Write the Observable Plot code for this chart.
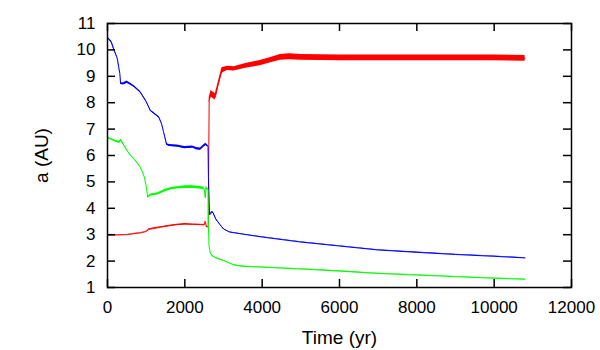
<!DOCTYPE html>
<html>
<head>
<meta charset="utf-8">
<script src="https://cdn.jsdelivr.net/npm/d3@7"></script>
<script src="https://cdn.jsdelivr.net/npm/@observablehq/plot@0.6"></script>
<style>
  html, body { margin: 0; padding: 0; background: #fff; }
  svg { font-family: "Liberation Sans", Arial, sans-serif; }
</style>
</head>
<body>
<div id="chart"></div>
<script>
// ---- data ----
const xTicks = [0, 2000, 4000, 6000, 8000, 10000, 12000];
const yTicks = [1, 2, 3, 4, 5, 6, 7, 8, 9, 10, 11];

const blueX = [0, 20, 100, 170, 250, 320, 340, 420, 500, 600, 700, 850, 1000, 1110, 1200, 1330, 1400, 1450, 1530, 1600, 1800, 2000, 2200, 2300, 2400, 2480, 2540, 2600, 2610, 2640, 2700, 2730, 2800, 2900, 3000, 3150, 3500, 4000, 5000, 6000, 7000, 8000, 9000, 10000, 10800];
const blueY = [10.45, 10.44, 10.3, 10.0, 9.7, 9.1, 8.72, 8.72, 8.78, 8.7, 8.6, 8.4, 8.05, 7.7, 7.6, 7.45, 7.2, 6.9, 6.42, 6.38, 6.36, 6.3, 6.32, 6.26, 6.24, 6.35, 6.42, 6.35, 5.2, 3.75, 3.85, 3.84, 3.6, 3.4, 3.22, 3.1, 3.02, 2.91, 2.72, 2.57, 2.42, 2.33, 2.25, 2.18, 2.12];
const blueS = [0.03, 0.03, 0.04, 0.03, 0.02, 0.02, 0.03, 0.04, 0.04, 0.04, 0.03, 0.03, 0.02, 0.02, 0.03, 0.03, 0.02, 0.01, 0.03, 0.04, 0.04, 0.04, 0.04, 0.04, 0.04, 0.04, 0.04, 0.04, 0.01, 0.02, 0.03, 0.03, 0.02, 0.01, 0.01, 0.01, 0.01, 0.01, 0.01, 0.01, 0.01, 0.01, 0.01, 0.01, 0.01];

const greenX = [0, 20, 200, 300, 350, 400, 500, 600, 700, 850, 950, 1000, 1040, 1100, 1300, 1500, 1650, 1800, 2000, 2200, 2400, 2500, 2530, 2550, 2570, 2600, 2610, 2625, 2660, 2710, 2800, 3000, 3270, 3500, 4000, 5000, 6000, 7000, 8000, 9000, 10000, 10800];
const greenY = [6.66, 6.66, 6.55, 6.5, 6.58, 6.45, 6.2, 6.0, 5.85, 5.56, 5.2, 4.85, 4.42, 4.5, 4.55, 4.68, 4.75, 4.78, 4.8, 4.8, 4.78, 4.75, 4.4, 4.78, 4.75, 4.72, 3.3, 2.6, 2.3, 2.2, 2.12, 2.02, 1.85, 1.8, 1.77, 1.70, 1.62, 1.53, 1.47, 1.41, 1.35, 1.31];
const greenS = [0.03, 0.03, 0.03, 0.04, 0.04, 0.03, 0.02, 0.02, 0.02, 0.01, 0.01, 0.01, 0.01, 0.03, 0.04, 0.04, 0.04, 0.04, 0.05, 0.05, 0.05, 0.05, 0.03, 0.07, 0.05, 0.03, 0.01, 0.01, 0.01, 0.02, 0.02, 0.01, 0.01, 0.01, 0.01, 0.01, 0.01, 0.01, 0.01, 0.01, 0.01, 0.01];

const redX = [0, 20, 500, 900, 1000, 1070, 1200, 1370, 1600, 1800, 2000, 2200, 2400, 2500, 2530, 2560, 2590, 2605, 2615, 2630, 2680, 2710, 2790, 2850, 2960, 3100, 3270, 3600, 3950, 4200, 4470, 4700, 5000, 6000, 7000, 8000, 9000, 10000, 10800];
const redY = [2.98, 2.98, 3.0, 3.08, 3.12, 3.2, 3.24, 3.28, 3.34, 3.38, 3.4, 3.39, 3.38, 3.37, 3.5, 3.3, 3.3, 3.28, 5.5, 8.1, 8.35, 8.3, 8.22, 8.6, 9.22, 9.3, 9.28, 9.4, 9.5, 9.6, 9.72, 9.74, 9.72, 9.7, 9.7, 9.7, 9.7, 9.7, 9.68];
const redS = [0.01, 0.01, 0.01, 0.01, 0.01, 0.02, 0.02, 0.02, 0.02, 0.02, 0.02, 0.02, 0.02, 0.02, 0.02, 0.02, 0.02, 0.01, 0.01, 0.1, 0.12, 0.12, 0.12, 0.1, 0.1, 0.08, 0.08, 0.09, 0.1, 0.1, 0.11, 0.11, 0.11, 0.11, 0.11, 0.11, 0.11, 0.11, 0.11];

const seriesNames = ["outer", "middle", "inner"];
const seriesColors = ["#ff0000", "#0000ff", "#00ff00"];

function rows(name, xs, ys, ss) {
  return xs.map((x, i) => ({series: name, x, y: ys[i], s: ss[i]}));
}
const data = [
  ...rows("outer", redX, redY, redS),
  ...rows("middle", blueX, blueY, blueS),
  ...rows("inner", greenX, greenY, greenS)
];

const W = 600, H = 350;
const mL = 107, mR = 29, mT = 23, mB = 63;
const innerW = W - mL - mR, innerH = H - mT - mB;
const tickLen = 8;

const chart = Plot.plot({
  width: W,
  height: H,
  marginLeft: mL,
  marginRight: mR,
  marginTop: mT,
  marginBottom: mB,
  style: {fontFamily: "'Liberation Sans', Arial, sans-serif", fontSize: "16px", background: "#fff", color: "#000"},
  x: {domain: [0, 12000]},
  y: {domain: [1, 11]},
  color: {type: "ordinal", domain: seriesNames, range: seriesColors},
  marks: [
    Plot.areaY(data, {x: "x", y1: d => d.y - d.s, y2: d => d.y + d.s, z: "series", fill: "series", fillOpacity: 1, curve: "linear"}),
    Plot.line(data, {x: "x", y: "y", z: "series", stroke: "series", strokeWidth: 1}),
    // inward ticks on all four sides
    Plot.tickX(xTicks, {x: d => d, insetTop: innerH - tickLen, stroke: "#000", strokeWidth: 1.5}),
    Plot.tickX(xTicks, {x: d => d, insetBottom: innerH - tickLen, stroke: "#000", strokeWidth: 1.5}),
    Plot.tickY(yTicks, {y: d => d, insetRight: innerW - tickLen, stroke: "#000", strokeWidth: 1.5}),
    Plot.tickY(yTicks, {y: d => d, insetLeft: innerW - tickLen, stroke: "#000", strokeWidth: 1.5}),
    Plot.axisX({ticks: xTicks, tickSize: 0, tickPadding: 13, label: null, fontSize: 17, tickFormat: d => String(d)}),
    Plot.axisY({ticks: yTicks, tickSize: 0, tickPadding: 12, label: null, fontSize: 17, tickFormat: d => String(d)}),
    Plot.text(["Time (yr)"], {text: d => d, frameAnchor: "bottom", dy: 56, fontSize: 19, lineAnchor: "bottom"}),
    Plot.text(["a (AU)"], {text: d => d, frameAnchor: "left", dx: -66, rotate: -90, fontSize: 19, textAnchor: "middle"}),
    Plot.frame({stroke: "#000", strokeWidth: 1.5})
  ]
});
document.getElementById("chart").appendChild(chart);
</script>
</body>
</html>
